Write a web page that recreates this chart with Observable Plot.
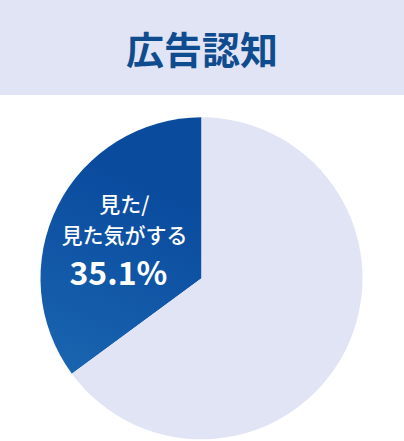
<!DOCTYPE html>
<html>
<head>
<meta charset="utf-8">
<script src="https://cdn.jsdelivr.net/npm/d3@7"></script>
<script src="https://cdn.jsdelivr.net/npm/@observablehq/plot@0.6"></script>
<style>
  html, body { margin: 0; padding: 0; background: #fff; }
  #header {
    width: 404px; height: 95px; background: #e1e4f4;
    display: flex; align-items: center; justify-content: center;
    font-family: "Noto Sans CJK JP", sans-serif; font-weight: 700;
    font-size: 38px; color: #0f4b8f; letter-spacing: 0px;
  }
  #chart svg { display: block; }
</style>
</head>
<body>
<div id="header">広告認知</div>
<div id="chart"></div>
<script>
const title = "広告認知";
const categories = ["見た/\n見た気がする", "その他"];
const values = [35.1, 64.9];
const showLabel = [true, false];

const data = categories.map((c, i) => ({category: c, value: values[i], show: showLabel[i]}));
const pie = d3.pie().sort(null).value(d => d.value).startAngle(0).endAngle(-2 * Math.PI);
const arcs = pie(data);
const labelArc = d3.arc().innerRadius(0).outerRadius(1.08);
const labelRows = arcs.filter(a => a.data.show).map(a => {
  const [cx, cy] = labelArc.centroid(a);
  return {x: cx, y: -cy, name: a.data.category, pct: a.data.value.toFixed(1) + "%"};
});

function pieMark(index, scales, values, dimensions, context) {
  const cx = scales.x(0), cy = scales.y(0), r = scales.x(1) - scales.x(0);
  const g = d3.create("svg:g");
  const defs = g.append("defs");
  const grad = defs.append("linearGradient")
    .attr("id", "sliceGrad")
    .attr("gradientUnits", "userSpaceOnUse")
    .attr("x1", cx - r * 0.75).attr("y1", cy + r * 0.68)
    .attr("x2", cx).attr("y2", cy - r);
  grad.append("stop").attr("offset", "0%").attr("stop-color", "#2070b8");
  grad.append("stop").attr("offset", "100%").attr("stop-color", "#0a4b9e");
  const arc = d3.arc().innerRadius(0).outerRadius(r);
  g.selectAll("path")
    .data(arcs)
    .join("path")
    .attr("transform", `translate(${cx},${cy})`)
    .attr("d", arc)
    .attr("fill", d => d.data.show ? "url(#sliceGrad)" : "#e1e4f5");
  return g.node();
}

const R = 161, CX = 201.5, CY = 183.3;
const chart = Plot.plot({
  width: 404,
  height: 346,
  margin: 0,
  x: {domain: [-1, 1], range: [CX - R, CX + R], axis: null},
  y: {domain: [-1, 1], range: [CY + R, CY - R], axis: null},
  style: {fontFamily: "'Noto Sans CJK JP', sans-serif", background: "transparent"},
  marks: [
    pieMark,
    Plot.text(labelRows, {
      x: "x", y: "y", text: "name",
      fill: "white", fontSize: 21, lineHeight: 1.45, dy: -22,
      textAnchor: "middle", lineAnchor: "middle", fontWeight: 500
    }),
    Plot.text(labelRows, {
      x: "x", y: "y", text: "pct",
      fill: "white", fontSize: 32, dy: 35, dx: -6,
      textAnchor: "middle", lineAnchor: "middle", fontWeight: 700
    })
  ]
});
document.getElementById("chart").appendChild(chart);
</script>
</body>
</html>
